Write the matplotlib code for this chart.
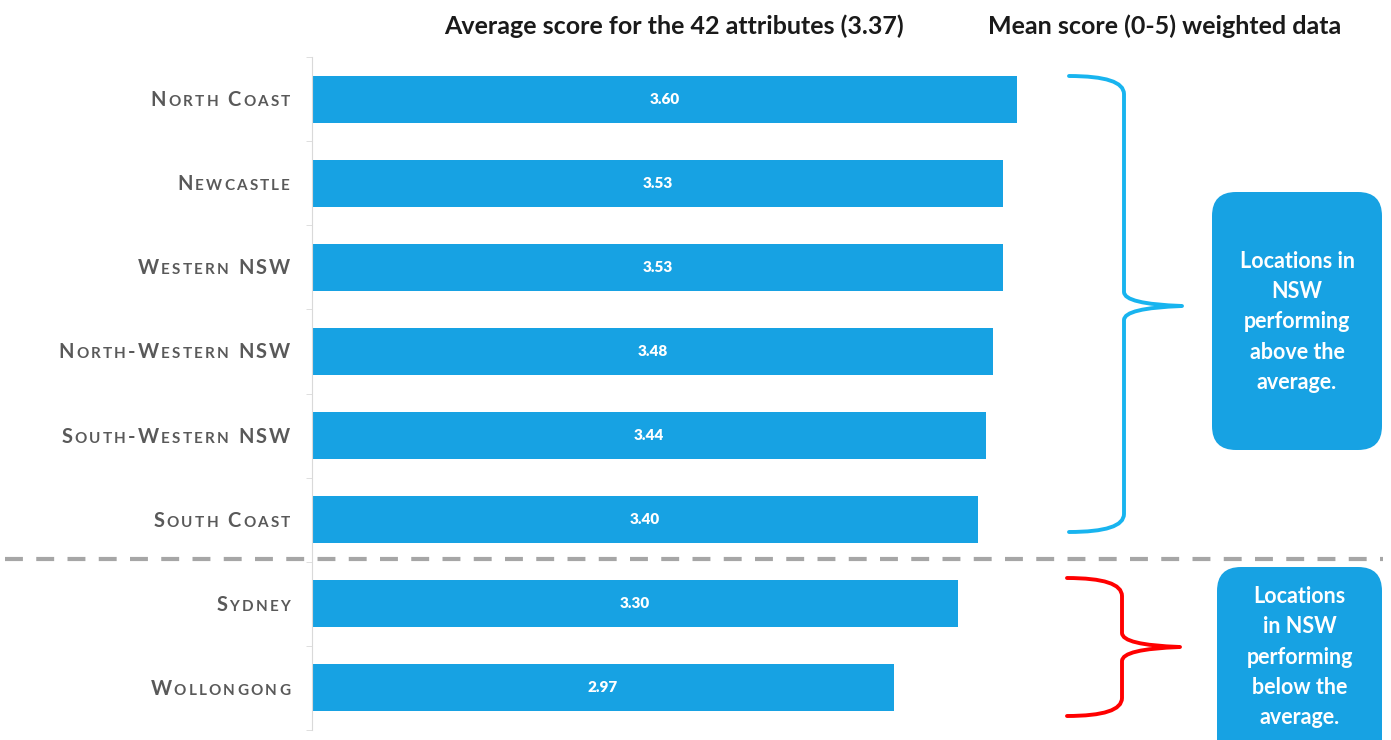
import matplotlib
matplotlib.use("Agg")
from matplotlib import pyplot as plt
from matplotlib import transforms
from matplotlib.path import Path
from matplotlib.patches import PathPatch, FancyBboxPatch

# data
regions = ['North Coast', 'Newcastle', 'Western NSW', 'North-Western NSW',
           'South-Western NSW', 'South Coast', 'Sydney', 'Wollongong']
scores = [3.60, 3.53, 3.53, 3.48, 3.44, 3.40, 3.30, 2.97]
title_left = 'Average score for the 42 attributes (3.37)'
title_right = 'Mean score (0-5) weighted data'
note_above = 'Locations in\nNSW\nperforming\nabove the\naverage.'
note_below = 'Locations\nin NSW\nperforming\nbelow the\naverage.'

W, H = 1391, 740
BLUE = '#17a2e3'
GREY_TXT = '#595959'

plt.rcParams['font.family'] = ['Lato', 'DejaVu Sans']

fig = plt.figure(figsize=(W / 100, H / 100), dpi=100)

# main bar axes, 0 at x=312px, 5 at ~1291px
ax = fig.add_axes([312 / W, 1 - 730 / H, 979 / W, 673 / H])
y = list(range(len(regions)))
ax.barh(y, scores, height=0.56, color=BLUE, zorder=2)
ax.set_xlim(0, 5)
ax.set_ylim(len(regions) - 0.5, -0.5)
for yi, s in zip(y, scores):
    ax.text(s / 2, yi, f'{s:.2f}', ha='center', va='center', color='white',
            fontsize=11, fontweight='heavy', zorder=3)

for side in ['top', 'right', 'bottom']:
    ax.spines[side].set_visible(False)
ax.spines['left'].set_color('#d9d9d9')
ax.set_xticks([])
ax.set_yticks([])
ax.set_yticks([i + 0.5 for i in range(-1, len(regions))], minor=True)
ax.tick_params(axis='y', which='minor', length=4, color='#d9d9d9', labelleft=False)
ax.patch.set_visible(False)

# small caps labels, built letter by letter
renderer = fig.canvas.get_renderer()
base = ax.get_yaxis_transform()
label_right = (290 - 312) / 979
big, small, track = 14.5, 11, 2.2
for yi, name in zip(y, regions):
    pieces = []
    for ch in name:
        size = small if ch.islower() else big
        t = ax.text(label_right, yi, ch.upper(), transform=base, ha='left',
                    va='baseline', fontsize=size, color=GREY_TXT,
                    fontweight='bold', fontfamily='Lato')
        pieces.append(t)
    widths = []
    for t in pieces:
        if t.get_text() == ' ':
            widths.append(5.0)
        else:
            widths.append(t.get_window_extent(renderer).width)
    total = sum(widths) + track * (len(pieces) - 1)
    cum = -total
    for t, w in zip(pieces, widths):
        t.set_transform(transforms.offset_copy(base, fig=fig, x=cum * 0.72,
                                               y=-5.0, units='points'))
        cum += w + track

# overlay in pixel coordinates for the annotations
ov = fig.add_axes([0, 0, 1, 1], zorder=5)
ov.set_xlim(0, W)
ov.set_ylim(H, 0)
ov.axis('off')
ov.patch.set_visible(False)

ov.plot([5, 1383], [559, 559], color='#a6a6a6', lw=3, dashes=(4.3, 3.2),
        solid_capstyle='butt')


def brace(x0, xv, xt, ytop, ymid, ybot, color):
    r = 18
    verts = [(x0, ytop), (xv, ytop), (xv, ytop + r),
             (xv, ymid - 14), (xv, ymid - 2), (xt, ymid),
             (xv, ymid + 2), (xv, ymid + 14),
             (xv, ybot - r), (xv, ybot), (x0, ybot)]
    codes = [Path.MOVETO, Path.CURVE3, Path.CURVE3,
             Path.LINETO, Path.CURVE3, Path.CURVE3,
             Path.CURVE3, Path.CURVE3,
             Path.LINETO, Path.CURVE3, Path.CURVE3]
    ov.add_patch(PathPatch(Path(verts, codes), fill=False, edgecolor=color,
                           lw=2.8, capstyle='round', joinstyle='round'))


brace(1069, 1124, 1182, 76, 306, 532, '#18b4ef')
brace(1067, 1122, 1180, 578, 647, 716, '#ff0000')

for (x0, y0, x1, y1), cy, txt in [((1212, 192, 1382, 450), 322, note_above),
                                  ((1217, 567, 1382, 770), 657, note_below)]:
    ov.add_patch(FancyBboxPatch((x0, y0), x1 - x0, y1 - y0,
                                boxstyle='round,pad=0,rounding_size=24',
                                facecolor=BLUE, edgecolor='none'))
    ov.text((x0 + x1) / 2, cy, txt, ha='center', va='center', color='white',
            fontsize=15.5, fontweight='bold', linespacing=1.55)

fig.text(674 / W, 1 - 26 / H, title_left, ha='center', va='center',
         fontsize=18, fontweight='bold', color='#1a1a1a')
fig.text(1165 / W, 1 - 26 / H, title_right, ha='center', va='center',
         fontsize=18, fontweight='bold', color='#1a1a1a')

fig.savefig('out.png', dpi=100, facecolor='white')
